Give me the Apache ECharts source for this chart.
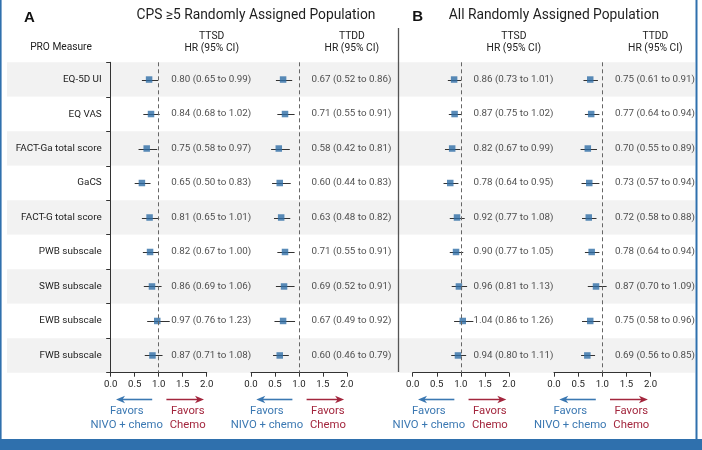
<!DOCTYPE html>
<html><head><meta charset="utf-8">
<script src="https://cdn.jsdelivr.net/npm/echarts@6/dist/echarts.min.js"></script>
<style>html,body{margin:0;padding:0;background:#fff}#c{width:702px;height:450px}</style>
</head><body><div id="c"></div>
<script>
// ---------- data ----------
const measures = ['EQ-5D UI','EQ VAS','FACT-Ga total score','GaCS','FACT-G total score','PWB subscale','SWB subscale','EWB subscale','FWB subscale'];
const panelTitles = ['CPS \u22655 Randomly Assigned Population', 'All Randomly Assigned Population'];
const panelLetters = ['A', 'B'];
const endpoints = ['TTSD', 'TTDD'];
const xTicks = [0, 0.5, 1, 1.5, 2];

const cpsTtsdHR = [0.80,0.84,0.75,0.65,0.81,0.82,0.86,0.97,0.87];
const cpsTtsdLo = [0.65,0.68,0.58,0.50,0.65,0.67,0.69,0.76,0.71];
const cpsTtsdHi = [0.99,1.02,0.97,0.83,1.01,1.00,1.06,1.23,1.08];

const cpsTtddHR = [0.67,0.71,0.58,0.60,0.63,0.71,0.69,0.67,0.60];
const cpsTtddLo = [0.52,0.55,0.42,0.44,0.48,0.55,0.52,0.49,0.46];
const cpsTtddHi = [0.86,0.91,0.81,0.83,0.82,0.91,0.91,0.92,0.79];

const allTtsdHR = [0.86,0.87,0.82,0.78,0.92,0.90,0.96,1.04,0.94];
const allTtsdLo = [0.73,0.75,0.67,0.64,0.77,0.77,0.81,0.86,0.80];
const allTtsdHi = [1.01,1.02,0.99,0.95,1.08,1.05,1.13,1.26,1.11];

const allTtddHR = [0.75,0.77,0.70,0.73,0.72,0.78,0.87,0.75,0.69];
const allTtddLo = [0.61,0.64,0.55,0.57,0.58,0.64,0.70,0.58,0.56];
const allTtddHi = [0.91,0.94,0.89,0.94,0.88,0.94,1.09,0.96,0.85];

const panels = [
  {hr: cpsTtsdHR, lo: cpsTtsdLo, hi: cpsTtsdHi},
  {hr: cpsTtddHR, lo: cpsTtddLo, hi: cpsTtddHi},
  {hr: allTtsdHR, lo: allTtsdLo, hi: allTtsdHi},
  {hr: allTtddHR, lo: allTtddLo, hi: allTtddHi}
];

// ---------- layout ----------
const FONT = 'Roboto';
const TOP = 62.3, HEIGHT = 310.4;
const G = [
  {left: 110.7, width: 96},
  {left: 251, width: 95.8},
  {left: 412.7, width: 96.3},
  {left: 554, width: 96.6}
];
const TEXT_X = 1.25; // data position where the HR text starts
const BLUE = '#3b78b2', RED = '#a3263d', MARK = '#2f6ea6';
const px = (i, v) => G[i].left + v / 2 * G[i].width;
const fmt = v => v.toFixed(2);

const grids = [{left: 7, width: 688, top: TOP, height: HEIGHT}];
const xAxes = [{gridIndex: 0, type: 'value', show: false, min: 0, max: 2}];
const yAxes = [{
  gridIndex: 0, type: 'category', data: measures, inverse: true, z: -1,
  axisLine: {show: false}, axisTick: {show: false}, axisLabel: {show: false},
  splitLine: {show: false},
  splitArea: {show: true, areaStyle: {color: ['#f2f2f2', '#ffffff']}}
}];
const series = [];

G.forEach((g, i) => {
  const gi = i + 1;
  grids.push({left: g.left, width: g.width, top: TOP, height: HEIGHT});
  xAxes.push({
    gridIndex: gi, type: 'value', min: xTicks[0], max: xTicks[xTicks.length - 1], interval: 0.5,
    axisLine: {show: true, lineStyle: {color: '#333', width: 1}},
    axisTick: {show: true, length: 4, lineStyle: {color: '#333'}},
    axisLabel: {margin: 7, fontSize: 9.6, color: '#1e1e1e', fontFamily: FONT, formatter: v => v.toFixed(1)},
    splitLine: {show: false}
  });
  yAxes.push(i === 0 ? {
    gridIndex: gi, type: 'category', data: measures, inverse: true,
    axisLine: {show: true, lineStyle: {color: '#333', width: 1}},
    axisTick: {show: true, length: 4.5, lineStyle: {color: '#333'}},
    axisLabel: {margin: 9, fontSize: 9.9, color: '#222', fontFamily: FONT},
    splitLine: {show: false}
  } : {
    gridIndex: gi, type: 'category', data: measures, inverse: true, show: false
  });
  const p = panels[i];
  series.push({
    type: 'custom', xAxisIndex: gi, yAxisIndex: gi, silent: true,
    data: measures.map((m, k) => [p.lo[k], p.hi[k], k]),
    encode: {x: [0, 1], y: 2},
    renderItem: (params, api) => {
      const a = api.coord([api.value(0), api.value(2)]);
      const b = api.coord([api.value(1), api.value(2)]);
      const y = Math.round(a[1]) + 0.5;
      return {type: 'line', shape: {x1: a[0], y1: y, x2: b[0], y2: y},
              style: {stroke: '#333', lineWidth: 1}};
    },
    z: 2
  });
  series.push({
    type: 'scatter', xAxisIndex: gi, yAxisIndex: gi, silent: true,
    symbol: 'rect', symbolSize: 6.5,
    itemStyle: {color: MARK},
    data: p.hr.map((v, k) => [v, k]),
    markLine: {
      silent: true, symbol: ['none', 'none'], label: {show: false},
      lineStyle: {color: '#666', type: [4, 3], width: 1},
      data: [{xAxis: 1}]
    },
    z: 3
  });
  series.push({
    type: 'scatter', xAxisIndex: gi, yAxisIndex: gi, silent: true,
    symbolSize: 1, itemStyle: {color: 'rgba(0,0,0,0)'},
    data: p.hr.map((v, k) => [TEXT_X, k, v, p.lo[k], p.hi[k]]),
    label: {
      show: true, position: 'right', distance: 0,
      fontSize: 9.8, color: '#1e1e1e', fontFamily: FONT,
      formatter: q => fmt(q.value[2]) + ' (' + fmt(q.value[3]) + ' to ' + fmt(q.value[4]) + ')'
    },
    z: 3
  });
});

// ---------- decorations ----------
const graphic = [];
const txt = (text, x, y, size, color, align, weight, family) => graphic.push({
  type: 'text', x: x, y: y, silent: true,
  style: {text: text, fill: color, align: align || 'center', verticalAlign: 'middle',
          font: (weight || 'normal') + ' ' + size + 'px ' + (family || FONT)}
});
// frame
graphic.push({type: 'rect', shape: {x: 0, y: 0, width: 1.6, height: 450}, style: {fill: '#2f70ad'}, silent: true});
graphic.push({type: 'rect', shape: {x: 695.5, y: 0, width: 2, height: 450}, style: {fill: '#2f70ad'}, silent: true});
graphic.push({type: 'rect', shape: {x: 0, y: 439, width: 702, height: 11}, style: {fill: '#2f70ad'}, silent: true});
// separator
graphic.push({type: 'line', shape: {x1: 398.5, y1: 28, x2: 398.5, y2: 372}, style: {stroke: '#555', lineWidth: 1.3}, silent: true});
// panel letters & titles
txt(panelLetters[0], 29.5, 17.5, 15, '#111', 'center', 'bold', 'Liberation Sans');
txt(panelLetters[1], 417.7, 16.5, 15, '#111', 'center', 'bold', 'Liberation Sans');
txt(panelTitles[0], 256, 15.5, 13.8, '#1e1e1e');
txt(panelTitles[1], 554, 15.5, 13.8, '#1e1e1e');
txt('PRO Measure', 61, 47.5, 10.2, '#222');
G.forEach((g, i) => {
  const hc = px(i, TEXT_X) + 41;
  txt(endpoints[i % 2], hc, 36.5, 10.3, '#222');
  txt('HR (95% CI)', hc, 48, 10.3, '#222');
  const cx = px(i, 1), y = 399.5;
  // blue arrow (left)
  const bTip = g.left + 5.3, bStart = cx - 6.5;
  graphic.push({type: 'line', shape: {x1: bStart, y1: y, x2: bTip + 5, y2: y}, style: {stroke: BLUE, lineWidth: 1.6}, silent: true});
  graphic.push({type: 'polygon', shape: {points: [[bTip, y], [bTip + 9, y - 3.8], [bTip + 6.5, y], [bTip + 9, y + 3.8]]}, style: {fill: BLUE}, silent: true});
  // red arrow (right)
  const rTip = g.left + g.width - 2.7, rStart = cx + 7.7;
  graphic.push({type: 'line', shape: {x1: rStart, y1: y, x2: rTip - 5, y2: y}, style: {stroke: RED, lineWidth: 1.6}, silent: true});
  graphic.push({type: 'polygon', shape: {points: [[rTip, y], [rTip - 9, y - 3.8], [rTip - 6.5, y], [rTip - 9, y + 3.8]]}, style: {fill: RED}, silent: true});
  txt('Favors', cx - 32, 411, 11.3, BLUE);
  txt('NIVO + chemo', cx - 32, 425.5, 11.3, BLUE);
  txt('Favors', cx + 29, 411, 11.3, RED);
  txt('Chemo', cx + 29, 425.5, 11.3, RED);
});

const chart = echarts.init(document.getElementById('c'), null, {renderer: 'canvas'});
chart.setOption({
  animation: false,
  backgroundColor: '#ffffff',
  grid: grids, xAxis: xAxes, yAxis: yAxes, series: series, graphic: graphic
});
</script>
</body></html>
